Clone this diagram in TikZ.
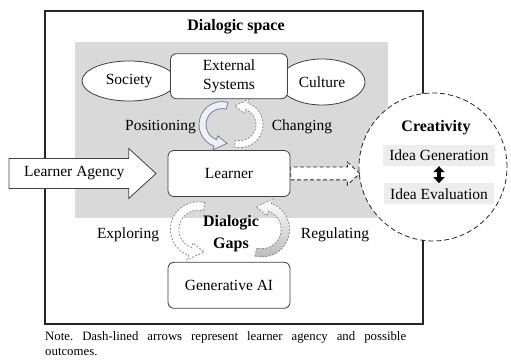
\documentclass[tikz,border=0pt]{standalone}
\usepackage{fontspec}
\setmainfont{Liberation Serif}
\usetikzlibrary{positioning, arrows.meta, shapes.geometric, shapes.arrows, calc}
\definecolor{slate}{RGB}{112,128,156}
\definecolor{panel}{RGB}{217,217,217}

\begin{document}
\begin{tikzpicture}[
    x=1pt, y=1pt,
    font=\fontsize{15.5}{19}\selectfont,
    box/.style={draw=black!75, thick, rounded corners=6pt, fill=white,
                minimum width=122pt, minimum height=46pt, align=center},
    oval/.style={ellipse, draw=black!75, thick, fill=white, inner sep=0pt},
    idea/.style={fill=black!7, inner xsep=6pt, inner ysep=0pt, minimum height=21pt},
    heading/.style={font=\fontsize{16}{22}\selectfont\bfseries, align=center},
    dashbend/.style={draw=black!45, dash pattern=on 2pt off 1.5pt, fill=white, thick},
    bendarrow/.pic={
        \path[pic actions] (75:23) arc[start angle=75, end angle=250, radius=23]
            -- (250:27) -- (285:19.5) -- (250:12) -- (250:16)
            arc[start angle=250, end angle=75, radius=16] -- cycle;
    },
    dbl/.style={{Triangle[width=11pt,length=6pt]}-{Triangle[width=11pt,length=6pt]}, line width=3.5pt}
]
\useasboundingbox (0,0) rectangle (511,363);

% outer frame and shaded zone
\node[draw=black!85, line width=1.6pt, minimum width=378pt, minimum height=313pt, inner sep=0pt] (space) at (234,195.5) {};
\node[heading] (title) at (236,336) {Dialogic space};
\node[fill=panel, minimum width=313pt, minimum height=176pt, inner sep=0pt] (zone) at (231.5,233) {};

% creativity circle
\node[circle, draw=black!85, thick, dash pattern=on 5pt off 3pt, fill=white, minimum size=148pt] (creat) at (433,196) {};
\node[heading] (ctitle) at (436,235) {Creativity};
\node[idea] (gen) at (439,207.5) {Idea Generation};
\node[idea, below=17pt of gen] (eva) {Idea Evaluation};
\draw[dbl] (gen) -- (eva);

% systems around the learner
\node[oval, minimum width=94pt, minimum height=40pt] (society) at (129,282) {Society};
\node[oval, minimum width=86pt, minimum height=46pt] (culture) at (322,281) {Culture};
\node[box] (learner) at (229,189.5) {Learner};
\node[box, above=51pt of learner, minimum width=117pt, minimum height=45pt] (es) {External\\Systems};
\node[box, below=65pt of learner] (genai) {Generative AI};

\node (pos) at (160.5,236) {Positioning};
\node (chg) at (302,236) {Changing};
\node (expl) at (128,128) {Exploring};
\node (reg) at (335,128) {Regulating};
\node[heading] (gaps) at (231,129) {Dialogic\\Gaps};

% bent arrows
\pic[draw=slate, fill=slate!12, thick] at ($(es.south)!0.5!(learner.north)+(-7,0)$) {bendarrow};
\pic[dashbend, rotate=180] at ($(es.south)!0.5!(learner.north)+(11,0)$) {bendarrow};
\pic[dashbend, scale=1.2] at ($(learner.south)!0.5!(genai.north)+(-31,0)$) {bendarrow};
\pic[dashbend, top color=white, bottom color=black!28, rotate=180, scale=1.2] at ($(learner.south)!0.5!(genai.north)+(33,0)$) {bendarrow};

% agency arrows
\node[single arrow, draw=black!75, thick, fill=white, single arrow head extend=10pt,
      single arrow tip angle=85, minimum height=147pt, inner ysep=7.8pt, left=11pt of learner] (agency) {Learner Agency};
\node[single arrow, draw=black!85, thick, dash pattern=on 4pt off 2.5pt, fill=white, single arrow head extend=5pt,
      single arrow tip angle=85, minimum height=69pt, inner ysep=6pt, anchor=tail] (toward) at (learner.east) {};

% note below the frame
\node[anchor=north west, text width=361pt, align=justify, inner sep=0pt,
      font=\fontsize{12.8}{15}\selectfont] (note) at (45,32)
      {\frenchspacing Note. Dash-lined arrows represent learner agency and possible\linebreak outcomes.};
\end{tikzpicture}
\end{document}
